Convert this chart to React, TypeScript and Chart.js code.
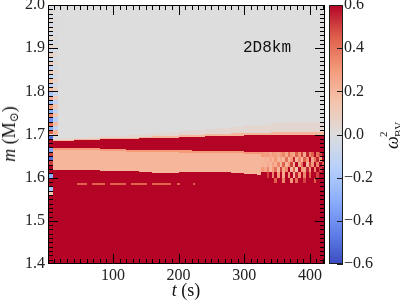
import React, { useEffect, useRef } from 'react';
import { Chart, registerables } from 'chart.js';

Chart.register(...registerables);

// ---------- axis ticks ----------
const xTickValues = [100, 200, 300, 400];
const yTickValues = [1.4, 1.5, 1.6, 1.7, 1.8, 1.9, 2.0];
const cbTickValues = [-0.6, -0.4, -0.2, 0.0, 0.2, 0.4, 0.6];
const X_MIN = 1;
const X_MAX = 423;
const Y_MIN = 1.4;
const Y_MAX = 2.0;
const V_MIN = -0.6;
const V_MAX = 0.6;

// ---------- heat-map data (time columns, mass bands) ----------
const tEdges = [1, 8, 16, 40, 60, 80, 100, 120, 140, 160, 180, 200, 220, 240, 260, 280, 300, 320, 340, 360, 380, 400, 423];
const coreTop = [1.617, 1.617, 1.617, 1.617, 1.617, 1.616, 1.616, 1.615, 1.613, 1.611, 1.611, 1.613, 1.614, 1.613, 1.612, 1.611, 1.609, 1.606, 1.603, 1.6, 1.598, 1.6];
const salmonTop = [1.668, 1.668, 1.668, 1.668, 1.668, 1.667, 1.666, 1.665, 1.665, 1.664, 1.664, 1.663, 1.662, 1.662, 1.662, 1.661, 1.66, 1.66, 1.659, 1.659, 1.659, 1.659];
const redTop = [1.686, 1.686, 1.686, 1.687, 1.688, 1.689, 1.689, 1.69, 1.691, 1.692, 1.693, 1.694, 1.695, 1.696, 1.697, 1.697, 1.698, 1.698, 1.698, 1.699, 1.699, 1.699];
const fringeStrong = [0.002, 0.002, 0.002, 0.002, 0.002, 0.003, 0.003, 0.003, 0.003, 0.004, 0.004, 0.004, 0.005, 0.005, 0.005, 0.006, 0.006, 0.006, 0.007, 0.007, 0.007, 0.007];
const fringeFaint = [0.002, 0.002, 0.003, 0.003, 0.004, 0.004, 0.005, 0.006, 0.007, 0.008, 0.009, 0.01, 0.011, 0.012, 0.014, 0.015, 0.017, 0.019, 0.021, 0.022, 0.023, 0.023];
const vCore = 0.6;
const vSalmon = 0.2;
const vSalmonHi = 0.3;
const vShell = 0.6;
const vFringeStrong = 0.2;
const vFringeFaint = 0.04;
const vOuter = 0.0;
const salmonHiThick = 0.005;

// early-time stripes (first column), bins of 0.01 from 1.56 upward
const stripeBase = 1.56;
const stripeVals = [0.15, -0.2, 0.6, 0.6, -0.3, 0.6, 0.6, 0.5, -0.5, 0.5, -0.35, 0.6, 0.6, -0.5, 0.45, -0.3, 0.4, -0.4, 0.35, -0.3, 0.3, -0.25, 0.25, -0.2, 0.18, -0.15, 0.15, -0.12, 0.12, -0.1, 0.1, -0.08, 0.08, -0.06, 0.05, -0.05, 0.04, -0.04, 0.03, -0.03, 0.03, -0.02, 0.02, -0.02];
// faint stripes (second column), bins of 0.01 from 1.70 upward
const stripeFaintBase = 1.7;
const stripeFaintVals = [0.2, -0.12, 0.18, -0.15, 0.15, -0.12, 0.12, -0.1, 0.1, -0.08, 0.08, -0.06, 0.06, -0.05, 0.05, -0.04, 0.04, -0.03, 0.03, -0.02, 0.02, -0.02, 0.02, -0.01, 0.01, -0.01, 0.01, 0, 0, 0];

// thin light streak inside the core
const streakStart = [45, 68, 95, 128, 160, 198, 222];
const streakEnd = [60, 88, 120, 152, 188, 202, 225];
const streakM = [1.584, 1.587];
const vStreak = 0.45;

// late-time speckled region
const speckleT = [326, 330, 334, 338, 342, 346, 350, 354, 358, 362, 366, 370, 374, 378, 382, 386, 390, 394, 398, 402, 406, 410, 414, 418, 423];
const speckleM = [1.588, 1.6, 1.612, 1.624, 1.636, 1.648, 1.659];
const speckleRow1 = [0.6, 0.6, 0.6, 0.6, 0.6, 0.45, 0.6, 0.6, 0.35, 0.6, 0.6, 0.3, 0.6, 0.4, 0.6, 0.6, 0.5, 0.6, 0.6, 0.6, 0.45, 0.6, 0.6, 0.6];
const speckleRow2 = [0.6, 0.6, 0.5, 0.6, 0.35, 0.6, 0.3, 0.6, 0.25, 0.6, 0.3, 0.6, 0.2, 0.55, 0.3, 0.6, 0.35, 0.6, 0.45, 0.6, 0.6, 0.5, 0.6, 0.6];
const speckleRow3 = [0.3, 0.25, 0.35, 0.2, 0.3, 0.4, 0.2, 0.5, 0.25, 0.35, 0.6, 0.2, 0.45, 0.15, 0.6, 0.3, 0.25, 0.55, 0.3, 0.6, 0.35, 0.6, 0.5, 0.6];
const speckleRow4 = [0.22, 0.2, 0.25, 0.2, 0.28, 0.22, 0.35, 0.2, 0.45, 0.2, 0.3, 0.5, 0.2, 0.6, 0.25, 0.4, 0.6, 0.2, 0.5, 0.3, 0.6, 0.35, 0.6, 0.45];
const speckleRow5 = [0.2, 0.22, 0.2, 0.25, 0.2, 0.3, 0.2, 0.25, 0.2, 0.4, 0.2, 0.3, 0.55, 0.2, 0.35, 0.2, 0.45, 0.3, 0.6, 0.25, 0.4, 0.55, 0.3, 0.6];
const speckleRow6 = [0.3, 0.28, 0.3, 0.25, 0.3, 0.28, 0.25, 0.3, 0.35, 0.25, 0.4, 0.3, 0.25, 0.45, 0.3, 0.5, 0.25, 0.55, 0.35, 0.45, 0.6, 0.4, 0.5, 0.6];
const speckleRows = [speckleRow1, speckleRow2, speckleRow3, speckleRow4, speckleRow5, speckleRow6];

// ---------- colormap (coolwarm) ----------
const CW: number[][] = [
  [0, 59, 76, 192],
  [0.125, 98, 130, 234],
  [0.25, 141, 176, 254],
  [0.375, 184, 208, 249],
  [0.5, 221, 221, 221],
  [0.625, 245, 196, 173],
  [0.75, 244, 154, 123],
  [0.875, 222, 96, 77],
  [1, 180, 4, 38],
];
function coolwarm(v: number): string {
  let f = (v - V_MIN) / (V_MAX - V_MIN);
  f = Math.max(0, Math.min(1, f));
  for (let i = 0; i < CW.length - 1; i++) {
    const a = CW[i], b = CW[i + 1];
    if (f <= b[0]) {
      const u = (f - a[0]) / (b[0] - a[0]);
      const r = Math.round(a[1] + (b[1] - a[1]) * u);
      const g = Math.round(a[2] + (b[2] - a[2]) * u);
      const bl = Math.round(a[3] + (b[3] - a[3]) * u);
      return `rgb(${r},${g},${bl})`;
    }
  }
  return 'rgb(180,4,38)';
}

const heatmapPlugin = {
  id: 'heatmap',
  beforeDatasetsDraw(chart: any) {
    const { ctx, chartArea: a, scales } = chart;
    const x = scales.x, y = scales.y, cb = scales.cb;
    ctx.save();
    ctx.beginPath();
    ctx.rect(a.left, a.top, a.right - a.left, a.bottom - a.top);
    ctx.clip();
    const cell = (t0: number, t1: number, m0: number, m1: number, v: number) => {
      const x0 = Math.round(x.getPixelForValue(t0));
      const x1 = Math.round(x.getPixelForValue(t1));
      const y0 = Math.round(y.getPixelForValue(m0));
      const y1 = Math.round(y.getPixelForValue(m1));
      if (x1 <= x0 || y0 <= y1) return;
      ctx.fillStyle = coolwarm(v);
      ctx.fillRect(x0, y1, x1 - x0, y0 - y1);
    };
    for (let c = 0; c < tEdges.length - 1; c++) {
      const t0 = tEdges[c], t1 = tEdges[c + 1];
      cell(t0, t1, Y_MIN, Y_MAX, vOuter);
      cell(t0, t1, Y_MIN, coreTop[c], vCore);
      cell(t0, t1, coreTop[c], salmonTop[c], vSalmon);
      cell(t0, t1, salmonTop[c] - salmonHiThick, salmonTop[c], vSalmonHi);
      cell(t0, t1, salmonTop[c], redTop[c], vShell);
      const fs = redTop[c] + fringeStrong[c];
      cell(t0, t1, fs, fs + fringeFaint[c], vFringeFaint);
      cell(t0, t1, redTop[c], fs, vFringeStrong);
    }
    for (let i = 0; i < streakStart.length; i++) {
      cell(streakStart[i], streakEnd[i], streakM[0], streakM[1], vStreak);
    }
    for (let r = 0; r < speckleRows.length; r++) {
      const row = speckleRows[r];
      for (let i = 0; i < row.length; i++) {
        cell(speckleT[i], speckleT[i + 1], speckleM[r], speckleM[r + 1], row[i]);
      }
    }
    for (let i = 0; i < stripeVals.length; i++) {
      const m0 = stripeBase + i * 0.01;
      cell(tEdges[0], tEdges[1], m0, m0 + 0.01, stripeVals[i]);
    }
    for (let i = 0; i < stripeFaintVals.length; i++) {
      const m0 = stripeFaintBase + i * 0.01;
      cell(tEdges[1], tEdges[2], m0, m0 + 0.01, stripeFaintVals[i]);
    }
    ctx.restore();

    // colorbar
    const cbL = Math.round(a.right + 4), cbR = Math.round(a.right + 18);
    ctx.save();
    for (let py = Math.round(cb.top); py < Math.round(cb.bottom); py++) {
      ctx.fillStyle = coolwarm(cb.getValueForPixel(py + 0.5));
      ctx.fillRect(cbL, py, cbR - cbL, 1);
    }
    ctx.restore();
  },
};

const framePlugin = {
  id: 'frame',
  afterDraw(chart: any) {
    const ctx = chart.ctx;
    const a = chart.chartArea;
    const x = chart.scales.x, y = chart.scales.y, cb = chart.scales.cb;
    const L = Math.round(a.left), R = Math.round(a.right) - 1;
    const T = Math.round(a.top), B = Math.round(a.bottom) - 1;
    ctx.save();
    ctx.fillStyle = 'rgb(0,0,0)';
    for (let t = 10; t <= 420; t += 10) {
      const len = t % 100 === 0 ? 10 : 5;
      const px = Math.round(x.getPixelForValue(t));
      ctx.fillRect(px, B - len + 1, 1, len);
      ctx.fillRect(px, T, 1, len);
    }
    for (let k = 141; k < 200; k++) {
      const len = k % 10 === 0 ? 10 : 5;
      const py = Math.round(y.getPixelForValue(k / 100));
      ctx.fillRect(L, py, len, 1);
      ctx.fillRect(R - len + 1, py, len, 1);
    }
    ctx.fillRect(L, T, R - L + 1, 1);
    ctx.fillRect(L, B, R - L + 1, 1);
    ctx.fillRect(L, T, 1, B - T + 1);
    ctx.fillRect(R, T, 1, B - T + 1);
    const cbL = Math.round(a.right + 4), cbR = Math.round(a.right + 18) - 1;
    ctx.fillStyle = 'rgb(30,30,30)';
    ctx.fillRect(cbL, T, cbR - cbL + 1, 1);
    ctx.fillRect(cbL, B, cbR - cbL + 1, 1);
    ctx.fillRect(cbL, T, 1, B - T + 1);
    ctx.fillRect(cbR, T, 1, B - T + 1);
    for (let i = 0; i < cbTickValues.length; i++) {
      const py = Math.round(cb.getPixelForValue(cbTickValues[i]));
      ctx.fillRect(cbR - 5, py, 6, 1);
    }
    ctx.restore();
  },
};

const tickFont = { family: "'Liberation Serif', serif", size: 16 };
const tickColor = '#222';

export default function App() {
  const ref = useRef<HTMLCanvasElement | null>(null);
  useEffect(() => {
    if (!ref.current) return;
    const chart = new Chart(ref.current, {
      type: 'scatter',
      data: { datasets: [] },
      options: {
        animation: false,
        responsive: false,
        layout: { padding: { left: 0, right: 0, top: 5, bottom: 0 } },
        plugins: { legend: { display: false }, tooltip: { enabled: false } },
        scales: {
          x: {
            type: 'linear',
            min: X_MIN,
            max: X_MAX,
            grid: { display: false, drawTicks: false },
            border: { display: false },
            ticks: { font: tickFont, color: tickColor, padding: 2, maxRotation: 0, autoSkip: false, callback: (v: any) => String(v) },
            afterBuildTicks: (s: any) => { s.ticks = xTickValues.map((v) => ({ value: v })); },
            afterFit: (s: any) => { s.height = 41; s.paddingLeft = 0; s.paddingRight = 0; },
          },
          y: {
            type: 'linear',
            position: 'left',
            min: Y_MIN,
            max: Y_MAX,
            grid: { display: false, drawTicks: false },
            border: { display: false },
            ticks: { font: tickFont, color: tickColor, padding: 3, autoSkip: false, callback: (v: any) => Number(v).toFixed(1) },
            afterBuildTicks: (s: any) => { s.ticks = yTickValues.map((v) => ({ value: v })); },
            afterFit: (s: any) => { s.width = 48; s.paddingTop = 0; s.paddingBottom = 0; },
          },
          cb: {
            type: 'linear',
            position: 'right',
            min: V_MIN,
            max: V_MAX,
            grid: { display: false, drawTicks: false },
            border: { display: false },
            ticks: {
              font: tickFont, color: tickColor, padding: 19, autoSkip: false,
              callback: (v: any) => {
                const n = Number(v);
                const s = Math.abs(n).toFixed(1);
                return n < -1e-9 ? '\u2212' + s : s;
              },
            },
            afterBuildTicks: (s: any) => { s.ticks = cbTickValues.map((v) => ({ value: v })); },
            afterFit: (s: any) => { s.width = 75; s.paddingTop = 0; s.paddingBottom = 0; },
          },
        },
      },
      plugins: [heatmapPlugin, framePlugin],
    } as any);
    return () => chart.destroy();
  }, []);

  const serif = "'Liberation Serif', 'DejaVu Serif', serif";
  return (
    <div style={{ position: 'fixed', left: 0, top: 0, width: 400, height: 305, background: '#fff', overflow: 'hidden' }}>
      <canvas ref={ref} width={400} height={305} style={{ position: 'absolute', left: 0, top: 0, width: 400, height: 305 }} />
      <div style={{ position: 'absolute', left: 243, top: 40, fontFamily: "'Liberation Mono', 'DejaVu Sans Mono', monospace", fontSize: 16, lineHeight: '16px', color: '#111', whiteSpace: 'nowrap' }}>2D8km</div>
      <div style={{ position: 'absolute', left: 10, top: 134, transform: 'translate(-50%, -50%) rotate(-90deg)', fontFamily: serif, fontSize: 18, lineHeight: '20px', color: '#111', whiteSpace: 'nowrap' }}>
        <i>m</i> (M<span style={{ fontSize: 12, position: 'relative', top: 3 }}>⊙</span>)
      </div>
      <div style={{ position: 'absolute', left: 186, top: 290, transform: 'translate(-50%, -50%)', fontFamily: serif, fontSize: 18, lineHeight: '20px', color: '#111', whiteSpace: 'nowrap' }}>
        <i>t</i> (s)
      </div>
      <div style={{ position: 'absolute', left: 392, top: 136, width: 30, height: 20, transform: 'translate(-50%, -50%) rotate(-90deg)', fontFamily: serif, fontSize: 18, lineHeight: '20px', color: '#111', whiteSpace: 'nowrap' }}>
        <i style={{ position: 'absolute', left: 2, top: 0 }}>ω</i>
        <span style={{ position: 'absolute', left: 14, top: -4, fontSize: 11, lineHeight: '11px' }}>2</span>
        <span style={{ position: 'absolute', left: 14, top: 11, fontSize: 11, lineHeight: '11px' }}>BV</span>
      </div>
    </div>
  );
}
